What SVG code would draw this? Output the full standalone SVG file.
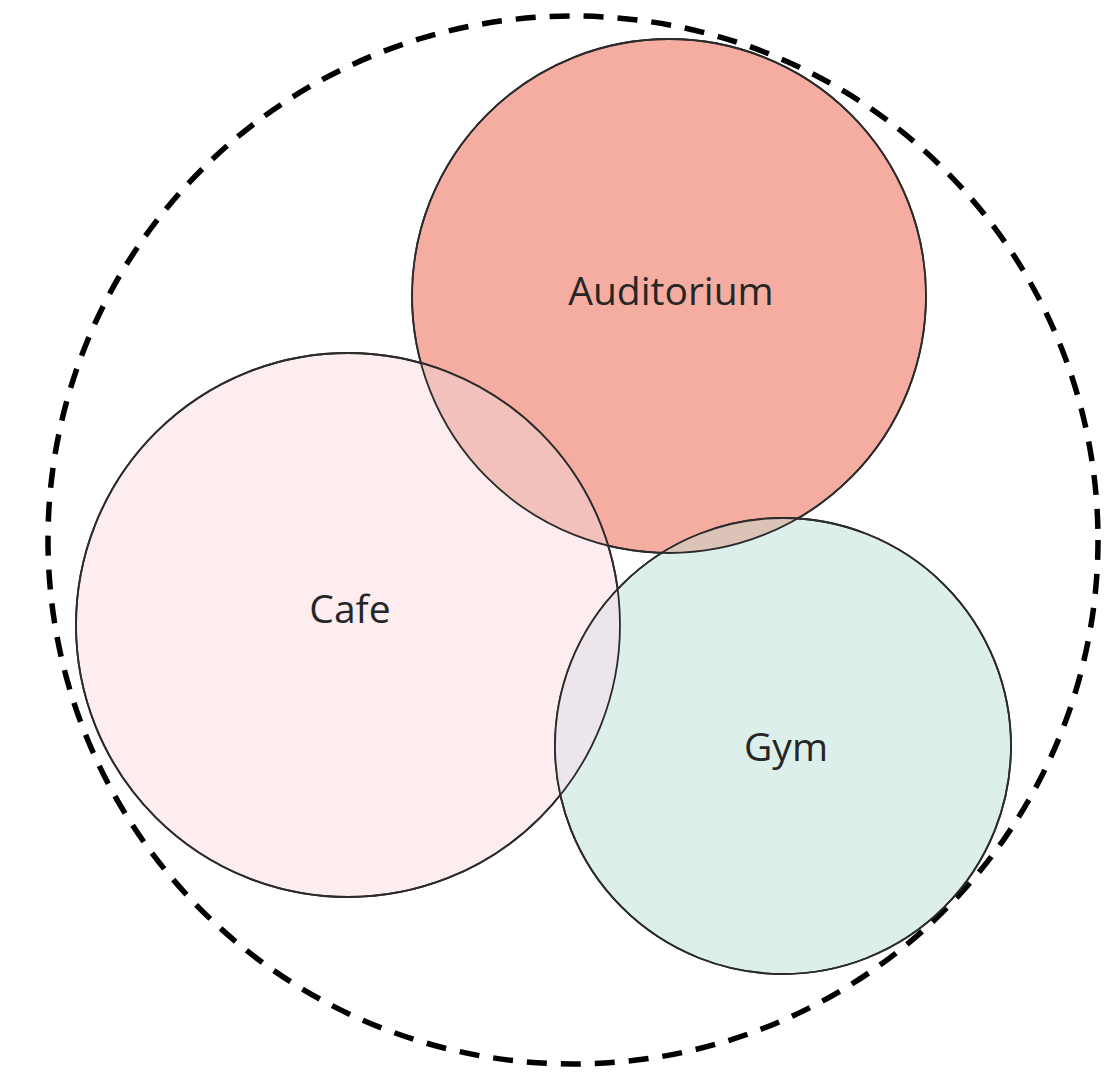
<svg xmlns="http://www.w3.org/2000/svg" width="1117" height="1076" viewBox="0 0 1117 1076">
  <style>
    .zone { stroke: #2b2b2b; stroke-width: 1.8; }
    .lens { stroke: none; }
    .label { font-family: "Open Sans", "Noto Sans", "Liberation Sans", sans-serif; font-size: 39px; fill: #262626; text-anchor: middle; }
    .boundary { fill: none; stroke: #000; stroke-width: 5.5; stroke-dasharray: 20 14; }
  </style>
  <defs>
    <clipPath id="clip-aud"><circle cx="669" cy="296" r="257"/></clipPath>
    <clipPath id="clip-cafe"><circle cx="348" cy="625" r="272"/></clipPath>
  </defs>
  <rect width="1117" height="1076" fill="#ffffff"/>

  <g id="site-boundary">
    <ellipse class="boundary" cx="573" cy="540" rx="525" ry="524"/>
  </g>

  <g id="auditorium">
    <circle class="zone" cx="669" cy="296" r="257" fill="#f4ada0"/>
  </g>
  <g id="cafe">
    <circle class="zone" cx="348" cy="625" r="272" fill="#fdedef"/>
  </g>
  <g id="gym">
    <circle class="zone" cx="783" cy="746" r="228" fill="#dcefea"/>
  </g>

  <!-- shared areas between zones -->
  <g id="overlaps">
    <circle class="lens" cx="348" cy="625" r="272" fill="#f2c1bb" clip-path="url(#clip-aud)"/>
    <circle class="lens" cx="783" cy="746" r="228" fill="#dcc3b7" clip-path="url(#clip-aud)"/>
    <circle class="lens" cx="783" cy="746" r="228" fill="#ece6ec" clip-path="url(#clip-cafe)"/>
  </g>

  <!-- outlines redrawn over the shared areas -->
  <g id="connectors" fill="none">
    <circle class="zone" cx="669" cy="296" r="257"/>
    <circle class="zone" cx="348" cy="625" r="272"/>
    <circle class="zone" cx="783" cy="746" r="228"/>
  </g>

  <g id="labels">
    <text class="label" x="671" y="305">Auditorium</text>
    <text class="label" x="350" y="623">Cafe</text>
    <text class="label" x="786" y="761">Gym</text>
  </g>
</svg>
